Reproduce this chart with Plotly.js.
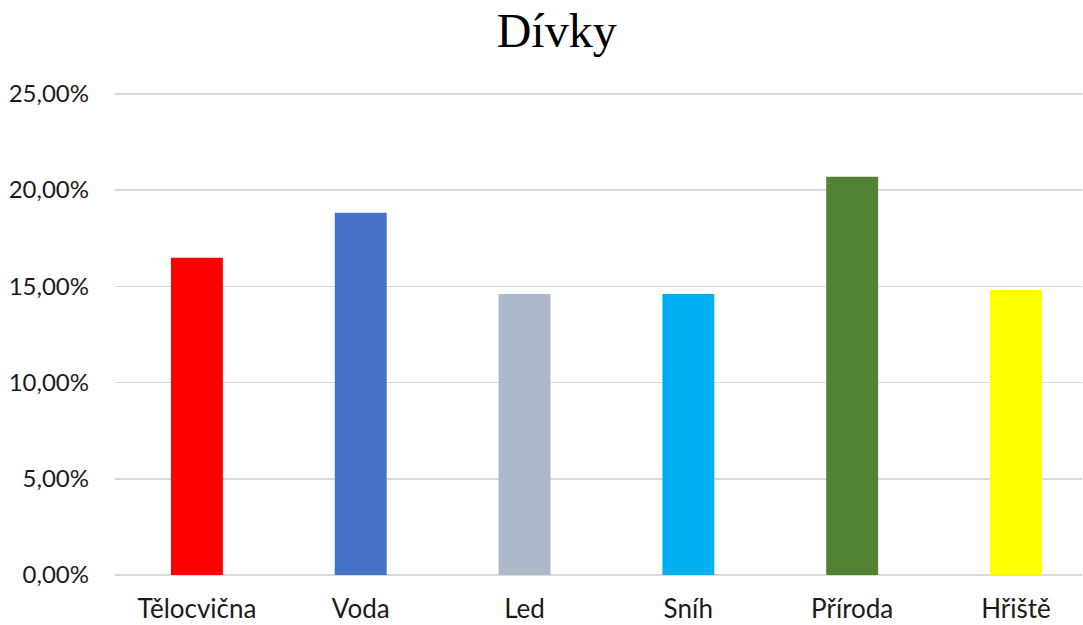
<!DOCTYPE html>
<html>
<head>
<meta charset="utf-8">
<script src="https://cdn.plot.ly/plotly-3.0.1.min.js"></script>
<style>
  html, body { margin: 0; padding: 0; background: #fff; }
  #chart { width: 1083px; height: 625px; }
</style>
</head>
<body>
<div id="chart"></div>
<script>
// Podíl odpovědí dívek podle prostředí
const categories = ["Tělocvična", "Voda", "Led", "Sníh", "Příroda", "Hřiště"];
const shares = [0.1648, 0.1882, 0.1460, 0.1460, 0.2069, 0.1481];
const barColors = ["#FF0000", "#4472C4", "#ADB9CA", "#00B0F0", "#548235", "#FFFF00"];

const trace = {
  type: "bar",
  x: categories,
  y: shares,
  width: 0.317,
  marker: { color: barColors },
  hoverinfo: "x+y"
};

const layout = {
  width: 1083,
  height: 625,
  margin: { l: 115, r: 1, t: 90, b: 50 },
  paper_bgcolor: "#ffffff",
  plot_bgcolor: "#ffffff",
  separators: ", ",
  showlegend: false,
  title: {
    text: "Dívky",
    font: { family: "Liberation Serif, Times New Roman, serif", size: 48, color: "#000000" },
    x: 0.514,
    xanchor: "center",
    y: 0.951,
    yanchor: "middle"
  },
  xaxis: {
    type: "category",
    range: [-0.5, 5.403],
    showgrid: false,
    showline: false,
    zeroline: false,
    ticks: "",
    ticklabelstandoff: 16,
    tickfont: { family: "Lato, Open Sans, sans-serif", size: 26, color: "#1a1a1a" }
  },
  yaxis: {
    range: [0, 0.252],
    tickvals: [0, 0.05, 0.10, 0.15, 0.20, 0.25],
    tickformat: ".2%",
    showgrid: true,
    gridcolor: "#d9d9d9",
    gridwidth: 1.5,
    zeroline: true,
    zerolinecolor: "#d9d9d9",
    zerolinewidth: 1.5,
    showline: false,
    ticks: "",
    ticklabelstandoff: 25,
    tickfont: { family: "Lato, Open Sans, sans-serif", size: 24, color: "#1a1a1a" }
  }
};

Plotly.newPlot("chart", [trace], layout, { displayModeBar: false, staticPlot: true });
</script>
</body>
</html>
